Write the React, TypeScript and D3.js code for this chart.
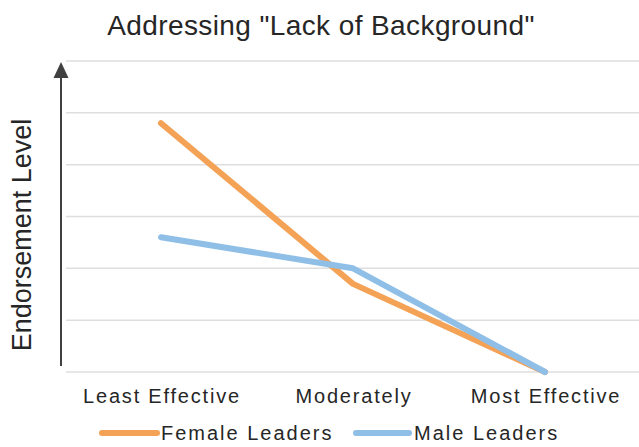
import React from "react";
import * as d3 from "d3";

const categories = ["Least Effective", "Moderately", "Most Effective"];
const femaleValues = [4.8, 1.7, 0];
const maleValues = [2.6, 2.0, 0];
const gridTicks = [0, 1, 2, 3, 4, 5, 6];
const seriesNames = ["Female Leaders", "Male Leaders"];
const title = 'Addressing "Lack of Background"';
const yLabel = "Endorsement Level";

const W = 639;
const H = 447;
const FONT = "'Liberation Sans', Arial, Helvetica, sans-serif";
const TEXT = "#262626";
const ORANGE = "#F3A256";
const BLUE = "#8FBEE7";

export default function App() {
  const x = d3.scalePoint<string>().domain(categories).range([65, 641]).padding(0.5);
  const y = d3.scaleLinear().domain([0, 6]).range([372, 61]);
  const line = d3
    .line<number>()
    .x((_, i) => x(categories[i]) as number)
    .y((d) => y(d));

  return (
    <svg
      width={W}
      height={H}
      style={{ position: "absolute", left: 0, top: 0, background: "#fff" }}
      fontFamily={FONT}
    >
      <text x={321} y={35} textAnchor="middle" fontSize={28} letterSpacing={0.4} fill={TEXT}>
        {title}
      </text>
      {gridTicks.map((t) => (
        <line key={t} x1={66} x2={641} y1={y(t)} y2={y(t)} stroke="#DEDEDE" strokeWidth={1.5} />
      ))}
      <line x1={61} x2={61} y1={366} y2={74} stroke="#404040" strokeWidth={2} />
      <path d={`M61,62 L53.5,78 L68.5,78 Z`} fill="#404040" />
      <text
        transform={`translate(31,235) rotate(-90)`}
        textAnchor="middle"
        fontSize={27}
        fill={TEXT}
      >
        {yLabel}
      </text>
      <path d={line(femaleValues) || ""} fill="none" stroke={ORANGE} strokeWidth={6} strokeLinecap="round" strokeLinejoin="round" />
      <path d={line(maleValues) || ""} fill="none" stroke={BLUE} strokeWidth={6} strokeLinecap="round" strokeLinejoin="round" />
      {categories.map((c) => (
        <text key={c} x={(x(c) as number) + 1} y={403} textAnchor="middle" fontSize={20} letterSpacing={1.8} fill={TEXT}>
          {c}
        </text>
      ))}
      <line x1={102} x2={157} y1={433} y2={433} stroke={ORANGE} strokeWidth={6} strokeLinecap="round" />
      <text x={161} y={440} fontSize={20} letterSpacing={2} fill={TEXT}>
        {seriesNames[0]}
      </text>
      <line x1={356} x2={409} y1={433} y2={433} stroke={BLUE} strokeWidth={6} strokeLinecap="round" />
      <text x={414} y={440} fontSize={20} letterSpacing={2} fill={TEXT}>
        {seriesNames[1]}
      </text>
    </svg>
  );
}
